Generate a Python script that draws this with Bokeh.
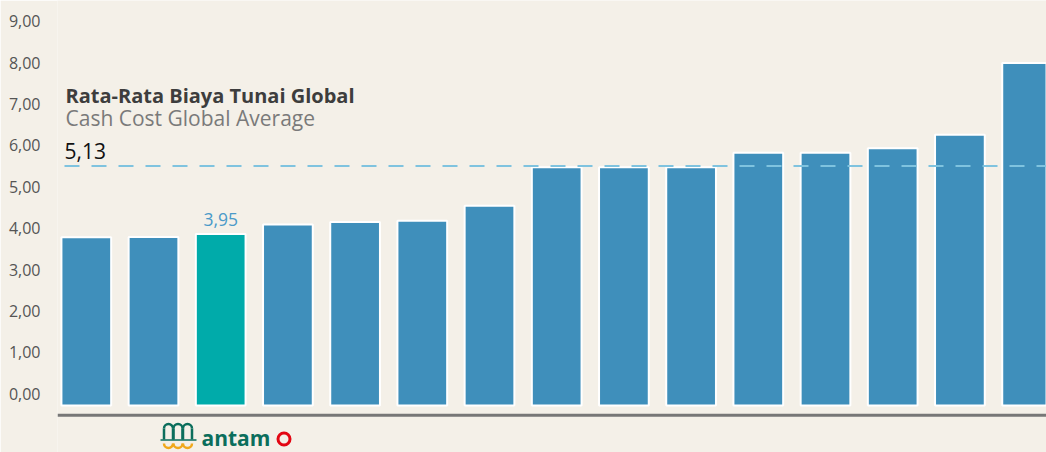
import math
from bokeh.plotting import figure
from bokeh.models import Range1d, FixedTicker, CustomJSTickFormatter, Span, Label, ColumnDataSource
from bokeh.core.properties import value
from bokeh.embed import file_html
from bokeh.resources import INLINE

# ---------------- data ----------------
producers = [f"Produsen {i}" for i in range(1, 16)]
cash_cost = [3.78, 3.79, 3.86, 4.09, 4.15, 4.18, 4.54, 5.47, 5.47, 5.47, 5.82, 5.82, 5.93, 6.26, 7.99]
highlight_index = 2
highlight_label = "3,95"
avg_value = 5.50
avg_label = "5,13"
title_id = "Rata-Rata Biaya Tunai Global"
title_en = "Cash Cost Global Average"
y_ticks = [0, 1, 2, 3, 4, 5, 6, 7, 8, 9]
logo_text = "antam"

# ---------------- style ----------------
BG = "#f4f0e8"
BAR_BLUE = "#3f8fbb"
BAR_TEAL = "#00abaa"
AVG_COLOR = "#7fc3df"
FONT = "Open Sans"
W, H = 1046, 452
FRAME_LEFT = 57

# layout helpers (figure pixel -> data) used only for decorations/ranges
X0_PAGE, X_PITCH = 85.8, 67.2
Y0_PAGE, Y_SCALE = 393.3, 41.4
def xd(px):
    return 1 + (px - X0_PAGE) / X_PITCH
def yd(py):
    return (Y0_PAGE - py) / Y_SCALE

xs = list(range(1, len(cash_cost) + 1))
colors = [BAR_TEAL if i == highlight_index else BAR_BLUE for i in range(len(cash_cost))]
baseline = -0.28
src = ColumnDataSource(dict(x=xs, top=cash_cost, color=colors, name=producers))

p = figure(width=W, height=H, output_backend="svg", toolbar_location=None,
           x_range=Range1d(xd(FRAME_LEFT), xd(W)), y_range=Range1d(yd(H), yd(0)),
           x_axis_location=None, min_border_left=FRAME_LEFT, min_border_right=0,
           min_border_top=0, min_border_bottom=0)
p.background_fill_color = BG
p.border_fill_color = BG
p.outline_line_color = None
p.grid.visible = False

# y axis
p.yaxis.ticker = FixedTicker(ticks=y_ticks)
p.yaxis.formatter = CustomJSTickFormatter(code="return tick.toFixed(2).replace('.', ',');")
p.yaxis.axis_line_color = None
p.yaxis.major_tick_line_color = None
p.yaxis.minor_tick_line_color = None
p.yaxis.major_tick_out = 0
p.yaxis.major_label_standoff = 17
p.yaxis.major_label_text_font = FONT
p.yaxis.major_label_text_font_size = "16px"
p.yaxis.major_label_text_color = "#555555"

# bars
p.vbar(x="x", top="top", bottom=baseline, width=0.74, fill_color="color",
       line_color="white", line_width=2, source=src)

# baseline axis line
p.add_layout(Span(location=yd(414.7), dimension="width", line_color="#777777", line_width=3))

# average line
p.add_layout(Span(location=avg_value, dimension="width", line_color=AVG_COLOR,
                  line_width=2, line_dash="15 12", line_dash_offset=20))

# texts
p.add_layout(Label(x=8, x_units="screen", y=yd(108.3), text=title_id, text_font=FONT,
                   text_font_style="bold", text_font_size="20px", text_color="#3d3d3d"))
p.add_layout(Label(x=8, x_units="screen", y=yd(131.7), text=title_en, text_font=FONT,
                   text_font_size="21px", text_color="#7a7a7a"))
p.add_layout(Label(x=7, x_units="screen", y=yd(158.3), text=avg_label, text_font=FONT,
                   text_font_size="21px", text_color="#111111"))

p.text(x=[xs[highlight_index]], y=[cash_cost[highlight_index]], text=[highlight_label],
       y_offset=-14, text_align="center", text_baseline="alphabetic",
       text_font=value(FONT), text_font_size="17.5px", text_color="#4a9ac8")

# logo (decoration)
GREEN = "#0b6e5c"
for cx in (168, 177.5, 187):
    p.arc(x=xd(cx), y=yd(428), radius=4.5, radius_units="screen",
          start_angle=0, end_angle=math.pi, line_color=GREEN, line_width=2.5)
    p.segment(x0=[xd(cx - 4.5), xd(cx + 4.5)], y0=[yd(428)] * 2,
              x1=[xd(cx - 4.5), xd(cx + 4.5)], y1=[yd(439)] * 2, line_color=GREEN, line_width=2.5)
p.segment(x0=[xd(160)], y0=[yd(439.5)], x1=[xd(196)], y1=[yd(439.5)], line_color=GREEN, line_width=1.5)
for cx in (168, 177.5, 187):
    p.arc(x=xd(cx), y=yd(443), radius=4.5, radius_units="screen",
          start_angle=math.pi, end_angle=2 * math.pi, line_color="#f0a81c", line_width=2.5)
p.text(x=[xd(201)], y=[yd(451)], text=[logo_text], text_align="left", text_baseline="bottom",
       text_font=value(FONT), text_font_style="bold", text_font_size="21px", text_color=GREEN)
p.scatter(x=[xd(283.5)], y=[yd(438.5)], marker="circle", size=12, fill_color=None,
          line_color="#e30613", line_width=3)

html = file_html(p, INLINE)
html = html.replace("<body>", f'<body style="background-color:{BG};">', 1)
open("out.html", "w").write(html)
